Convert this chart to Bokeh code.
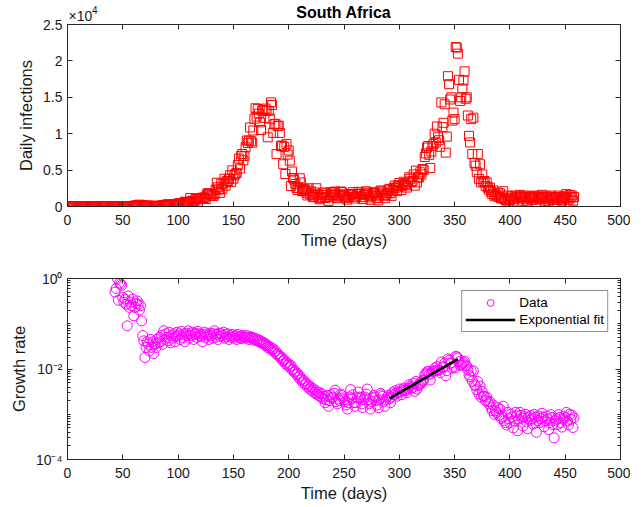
import numpy as np
from bokeh.plotting import figure
from bokeh.layouts import column
from bokeh.models import (Range1d, LinearAxis, LogAxis, FixedTicker, CustomJSTickFormatter,
                          Legend, LegendItem, Div)
from bokeh.embed import file_html
from bokeh.resources import INLINE

# ---------------- data ----------------
title_text = "South Africa"
x_label = "Time (days)"
top_y_label = "Daily infections"
bottom_y_label = "Growth rate"
top_multiplier_base = "×10"
top_multiplier_exp = "4"

# daily infections, one value per day starting at day 0
daily_infections = [
    0, 0, 0, 0, 0, 0, 0, 0, 0, 0,
    0, 0, 0, 0, 0, 0, 0, 0, 0, 0,
    0, 0, 0, 0, 0, 0, 0, 0, 0, 0,
    0, 0, 0, 0, 0, 0, 0, 0, 0, 0,
    0, 0, 0, 1, 1, 1, 1, 4, 3, 6,
    4, 11, 14, 13, 11, 23, 31, 34, 52, 38,
    34, 128, 148, 155, 218, 243, 17, 93, 193, 73,
    27, 82, 112, 123, 80, 70, 90, 60, 70, 50,
    100, 70, 40, 95, 80, 99, 143, 178, 124, 251,
    165, 318, 212, 163, 267, 166, 173, 254, 247, 354,
    385, 431, 437, 267, 447, 424, 663, 608, 601, 595,
    376, 1160, 698, 792, 666, 817, 1078, 1080, 665, 988,
    1134, 1042, 1218, 1158, 1240, 1032, 1673, 1837, 1727, 1713,
    1523, 1716, 1455, 1674, 2318, 3267, 2642, 2312, 1876, 3147,
    2430, 3204, 3809, 2872, 3494, 3466, 3809, 4302, 3357, 4966,
    3825, 4288, 4518, 4621, 5688, 6578, 5216, 6945, 7210, 6334,
    6945, 8124, 9063, 8728, 9063, 10853, 8971, 8773, 10442, 12058,
    13497, 12348, 13374, 12757, 11554, 10500, 13172, 13285, 12172, 13449,
    13150, 9500, 13150, 12058, 14300, 13944, 10107, 11300, 11362, 7200,
    11046, 11100, 10107, 8295, 8382, 5800, 8195, 4456, 8600, 7131,
    7700, 6300, 2810, 4802, 3916, 3694, 3104, 2555, 2258, 2541,
    3880, 3298, 2128, 2420, 2325, 2315, 1895, 1514, 2505, 1677,
    2088, 1614, 1298, 1367, 1920, 2505, 1673, 1216, 989, 1198,
    1581, 1815, 1923, 1158, 1324, 1587, 772, 1363, 1981, 1553,
    1676, 1906, 2055, 1230, 1136, 1554, 1411, 2064, 1980, 1680,
    1535, 1412, 1144, 941, 1311, 1721, 1690, 1608, 1976, 1342,
    1093, 1376, 1727, 2017, 1768, 1723, 1283, 1010, 1592, 1788,
    2083, 1922, 1609, 1266, 921, 1460, 1758, 1965, 1832, 1498,
    1168, 845, 1652, 2199, 2085, 1907, 1480, 1140, 1602, 1816,
    2220, 2418, 1834, 1460, 2258, 2534, 2880, 2600, 2102, 2900,
    3223, 2802, 2252, 2970, 3400, 3100, 2900, 2600, 3313, 4011,
    3813, 3398, 3500, 4400, 2870, 4932, 3300, 4011, 4000, 4700,
    4400, 5163, 5000, 6800, 7300, 8100, 8300, 7100, 5300, 7552,
    8319, 8600, 10000, 8800, 11000, 9500, 9100, 8200, 14300, 10900,
    11500, 14046, 7400, 9600, 17900, 16800, 14700, 15000, 11800, 12900,
    12000, 21900, 21832, 21000, 17400, 14500, 15000, 16200, 17300, 18570,
    14800, 15002, 12500, 9700, 8800, 12000, 7200, 12200, 6000, 5600,
    4700, 7200, 3800, 5800, 3300, 4400, 3400, 3500, 2800, 3300,
    2600, 2300, 2600, 2000, 1700, 2200, 1400, 1600, 1500, 1900,
    1300, 1800, 1100, 1200, 2100, 1000, 900, 800, 1500, 1100,
    900, 1400, 1200, 700, 1000, 1500, 1300, 600, 1100, 1600,
    1400, 1200, 800, 1300, 1500, 1000, 700, 1300, 1100, 1400,
    1200, 900, 1500, 1300, 600, 1100, 1400, 1000, 1200, 1600,
    1300, 800, 1100, 1400, 1200, 700, 1000, 1500, 1300, 900,
    400, 1100, 1200, 900, 1500, 1300, 1000, 800, 1200, 1400,
    1300, 1700, 1100, 900, 1600, 1200, 1500, 800, 1300,
]

# growth rate, one value per day starting at day 43
growth_first_day = 43
growth_rate = [
    0.5, 0.6, 1.0, 0.33, 0.8, 0.75, 0.71,
    0.38, 0.3, 0.35, 0.27, 0.09, 0.41, 0.23, 0.3, 0.25, 0.35,
    0.15, 0.23, 0.28, 0.32, 0.27, 0.2, 0.25, 0.116, 0.055, 0.042,
    0.018, 0.03, 0.04, 0.035, 0.025, 0.045, 0.03, 0.04, 0.022, 0.035,
    0.03, 0.045, 0.038, 0.05, 0.04, 0.055, 0.035, 0.07, 0.045, 0.06,
    0.05, 0.042, 0.065, 0.038, 0.055, 0.048, 0.06, 0.04, 0.052, 0.065,
    0.055, 0.06, 0.045, 0.068, 0.05, 0.058, 0.04, 0.062, 0.055, 0.07,
    0.048, 0.06, 0.055, 0.065, 0.045, 0.058, 0.062, 0.05, 0.068, 0.055,
    0.06, 0.052, 0.04, 0.058, 0.065, 0.05, 0.06, 0.055, 0.045, 0.062,
    0.055, 0.048, 0.06, 0.07, 0.05, 0.058, 0.045, 0.062, 0.052, 0.06,
    0.055, 0.065, 0.048, 0.058, 0.052, 0.06, 0.045, 0.055, 0.05, 0.058,
    0.052, 0.048, 0.055, 0.045, 0.058, 0.05, 0.053, 0.047, 0.055, 0.05,
    0.052, 0.048, 0.055, 0.05, 0.045, 0.052, 0.048, 0.05, 0.044, 0.048,
    0.046, 0.042, 0.045, 0.04, 0.043, 0.038, 0.04, 0.036, 0.038, 0.033,
    0.035, 0.03, 0.032, 0.028, 0.03, 0.026, 0.028, 0.024, 0.025, 0.021,
    0.022, 0.02, 0.019, 0.017, 0.018, 0.015, 0.016, 0.013, 0.014, 0.012,
    0.013, 0.011, 0.012, 0.0095, 0.01, 0.0085, 0.009, 0.0075, 0.008, 0.0065,
    0.007, 0.0058, 0.006, 0.005, 0.0055, 0.0045, 0.0048, 0.004, 0.0044, 0.0036,
    0.004, 0.0033, 0.0037, 0.003, 0.0034, 0.0028, 0.0031, 0.0026, 0.003, 0.0024,
    0.0028, 0.0022, 0.0025, 0.0018, 0.0021, 0.0026, 0.0015, 0.002, 0.0027, 0.0023,
    0.0024, 0.0029, 0.0034, 0.0019, 0.0017, 0.0022, 0.002, 0.0028, 0.0026, 0.0023,
    0.0021, 0.0019, 0.0016, 0.0013, 0.0018, 0.0024, 0.0035, 0.0022, 0.0027, 0.0018,
    0.0015, 0.0018, 0.0023, 0.0031, 0.0024, 0.0023, 0.0017, 0.0014, 0.0021, 0.0024,
    0.0028, 0.0036, 0.0021, 0.0017, 0.0013, 0.0019, 0.0023, 0.0026, 0.0024, 0.002,
    0.0016, 0.0014, 0.0021, 0.0029, 0.0027, 0.0025, 0.0019, 0.0015, 0.0021, 0.0024,
    0.0026, 0.0022, 0.0018, 0.0024, 0.003, 0.0027, 0.0033, 0.0029, 0.0025, 0.0031,
    0.0036, 0.0031, 0.0027, 0.0034, 0.0038, 0.0035, 0.0033, 0.003, 0.0037, 0.0045,
    0.0042, 0.0038, 0.0039, 0.0048, 0.0032, 0.0053, 0.0036, 0.0043, 0.0044, 0.0051,
    0.0048, 0.0056, 0.0055, 0.0074, 0.0079, 0.0087, 0.0088, 0.0076, 0.0057, 0.008,
    0.0088, 0.009, 0.0105, 0.0092, 0.0113, 0.0097, 0.0093, 0.0083, 0.0143, 0.0107,
    0.0112, 0.0135, 0.0071, 0.0092, 0.0168, 0.0155, 0.0134, 0.0135, 0.0105, 0.0114,
    0.0105, 0.019, 0.0186, 0.0176, 0.0145, 0.012, 0.0123, 0.0132, 0.014, 0.0149,
    0.0117, 0.0117, 0.0096, 0.0074, 0.0067, 0.0091, 0.0054, 0.0091, 0.0045, 0.0042,
    0.0035, 0.0053, 0.0028, 0.0042, 0.0024, 0.0032, 0.0025, 0.0025, 0.002, 0.0024,
    0.0019, 0.0017, 0.0019, 0.0014, 0.0012, 0.0016, 0.001, 0.0012, 0.0011, 0.0014,
    0.00095, 0.0013, 0.0008, 0.00087, 0.0015, 0.00072, 0.00065, 0.00058, 0.0011, 0.0008,
    0.00065, 0.001, 0.00087, 0.0005, 0.00072, 0.0011, 0.00093, 0.00043, 0.00079, 0.0011,
    0.00095, 0.00082, 0.00055, 0.00088, 0.001, 0.00068, 0.00048, 0.00087, 0.00074, 0.00093,
    0.0008, 0.0006, 0.001, 0.00086, 0.0004, 0.00073, 0.00092, 0.00066, 0.0008, 0.00105,
    0.00086, 0.00053, 0.00072, 0.00092, 0.00079, 0.00046, 0.00065, 0.00098, 0.00085, 0.00059,
    0.0003, 0.00072, 0.00078, 0.00059, 0.00098, 0.00085, 0.00065, 0.00052, 0.00078, 0.00091,
    0.00084, 0.0011, 0.00071, 0.00058, 0.001, 0.00077, 0.00096, 0.00051, 0.00083,
]

# window used for the exponential fit (days)
fit_start_day = 291
fit_end_day = 353

x_ticks = [0, 50, 100, 150, 200, 250, 300, 350, 400, 450, 500]
top_y_ticks = [0, 5000, 10000, 15000, 20000, 25000]
log_y_ticks = [1e-4, 1e-2, 1]

legend_labels = ["Data", "Exponential fit"]

# ---------------- derived ----------------
inf_days = np.arange(len(daily_infections))
gr_days = np.arange(growth_first_day, growth_first_day + len(growth_rate))
gr = np.array(growth_rate)
mask = (gr_days >= fit_start_day) & (gr_days <= fit_end_day)
slope, intercept = np.polyfit(gr_days[mask], np.log(gr[mask]), 1)
fit_x = np.array([fit_start_day, fit_end_day])
fit_y = np.exp(intercept + slope * fit_x)

log_minor = [k * 10.0 ** e for e in range(-4, 0) for k in range(1, 10)]

FONT = "Liberation Sans"
AX = "#262626"
LEFT = 67
FW = 553
RIGHT = 10
HEADER_H = 14


def style_axis(ax, font_size="14px"):
    ax.axis_line_color = AX
    ax.major_tick_line_color = AX
    ax.major_tick_in = 5
    ax.major_tick_out = 0
    ax.minor_tick_in = 3
    ax.minor_tick_out = 0
    ax.minor_tick_line_color = AX
    ax.major_label_text_font = FONT
    ax.major_label_text_font_size = font_size
    ax.major_label_text_color = "#1a1a1a"
    ax.axis_label_text_font = FONT
    ax.axis_label_text_font_size = "16.5px"
    ax.axis_label_text_font_style = "normal"
    ax.axis_label_text_color = "#1a1a1a"


def blank_axis(ax):
    style_axis(ax)
    ax.formatter = CustomJSTickFormatter(code="return '';")
    ax.major_label_text_font_size = "0px"
    ax.major_label_standoff = 0


# ---------------- header (title and x10^4 multiplier) ----------------
header_html = (
    f'<div style="position:relative;width:{LEFT + FW + RIGHT}px;height:{HEADER_H}px;'
    f'overflow:visible;font-family:\'{FONT}\';color:#000;">'
    f'<span style="position:absolute;left:{LEFT}px;width:{FW}px;top:3px;line-height:20px;'
    f'text-align:center;font-weight:bold;font-size:16px;white-space:nowrap;">{title_text}</span>'
    f'<span style="position:absolute;left:{LEFT + 1.5}px;top:6px;line-height:20px;'
    f'font-size:14px;color:#1a1a1a;white-space:nowrap;">{top_multiplier_base}</span>'
    f'<span style="position:absolute;left:{LEFT + 25}px;top:5px;line-height:12px;'
    f'font-size:10px;color:#1a1a1a;">{top_multiplier_exp}</span>'
    '</div>'
)
header = Div(text=header_html, width=LEFT + FW + RIGHT, height=HEADER_H,
             margin=(0, 0, 0, 0), styles={"overflow": "visible", "z-index": "10"})

# ---------------- top plot ----------------
p1 = figure(frame_width=FW, frame_height=182, output_backend="svg", toolbar_location=None,
            x_range=Range1d(0, 500), y_range=Range1d(0, 25000),
            min_border_left=LEFT, min_border_right=RIGHT, min_border_top=24 - HEADER_H,
            min_border_bottom=46)
p1.xgrid.visible = False
p1.ygrid.visible = False
p1.outline_line_color = AX
p1.border_fill_alpha = 0

p1.scatter(inf_days, daily_infections, marker="square", size=9, fill_color=None,
           line_color="#ff0000", line_width=1)

p1.xaxis.ticker = FixedTicker(ticks=x_ticks, minor_ticks=[])
p1.yaxis.ticker = FixedTicker(ticks=top_y_ticks, minor_ticks=[])
p1.yaxis.formatter = CustomJSTickFormatter(code="return (tick/10000).toString();")
p1.xaxis.axis_label = x_label
p1.yaxis.axis_label = top_y_label
for ax in p1.xaxis + p1.yaxis:
    style_axis(ax)
p1.xaxis.major_label_standoff = 8
p1.xaxis.axis_label_standoff = 3
p1.yaxis.major_label_standoff = 5

top_ax1 = LinearAxis(ticker=FixedTicker(ticks=x_ticks, minor_ticks=[]))
blank_axis(top_ax1)
p1.add_layout(top_ax1, "above")
right_ax1 = LinearAxis(ticker=FixedTicker(ticks=top_y_ticks, minor_ticks=[]))
blank_axis(right_ax1)
p1.add_layout(right_ax1, "right")

# ---------------- bottom plot ----------------
p2 = figure(frame_width=FW, frame_height=181, output_backend="svg", toolbar_location=None,
            x_range=Range1d(0, 500), y_range=Range1d(1e-4, 1), y_axis_type="log",
            min_border_left=LEFT, min_border_right=RIGHT, min_border_top=26, min_border_bottom=46)
p2.xgrid.visible = False
p2.ygrid.visible = False
p2.outline_line_color = AX

r_data = p2.scatter(gr_days, growth_rate, marker="circle", size=10, fill_color=None,
                    line_color="#ff00ff", line_width=1)
r_fit = p2.line(fit_x, fit_y, line_color="#000000", line_width=2.5)

log_fmt = CustomJSTickFormatter(code="""
const e = Math.round(Math.log10(tick));
const m = {'0':'\u2070','1':'\u00b9','2':'\u00b2','3':'\u00b3','4':'\u2074','-':'\u207b'};
return '10' + String(e).split('').map(c => m[c]).join('');
""")
p2.xaxis.ticker = FixedTicker(ticks=x_ticks, minor_ticks=[])
p2.yaxis.ticker = FixedTicker(ticks=log_y_ticks, minor_ticks=log_minor)
p2.yaxis.formatter = log_fmt
p2.xaxis.axis_label = x_label
p2.yaxis.axis_label = bottom_y_label
for ax in p2.xaxis + p2.yaxis:
    style_axis(ax)
p2.xaxis.major_label_standoff = 8
p2.xaxis.axis_label_standoff = 3
p2.yaxis.major_label_standoff = 5

top_ax2 = LinearAxis(ticker=FixedTicker(ticks=x_ticks, minor_ticks=[]))
blank_axis(top_ax2)
p2.add_layout(top_ax2, "above")
right_ax2 = LogAxis(ticker=FixedTicker(ticks=log_y_ticks, minor_ticks=log_minor))
blank_axis(right_ax2)
p2.add_layout(right_ax2, "right")

legend = Legend(items=[LegendItem(label=legend_labels[0], renderers=[r_data]),
                       LegendItem(label=legend_labels[1], renderers=[r_fit])],
                location="top_right")
legend.margin = 12
legend.padding = 3
legend.spacing = 0
legend.glyph_width = 50
legend.glyph_height = 17
legend.label_height = 17
legend.label_standoff = 4
legend.label_text_font = FONT
legend.label_text_font_size = "13.5px"
legend.label_text_color = "#000000"
legend.border_line_color = "#262626"
legend.border_line_width = 1
legend.background_fill_color = "white"
legend.background_fill_alpha = 1
p2.add_layout(legend)

layout = column(header, p1, p2, spacing=0)
open("out.html", "w").write(file_html(layout, INLINE))
